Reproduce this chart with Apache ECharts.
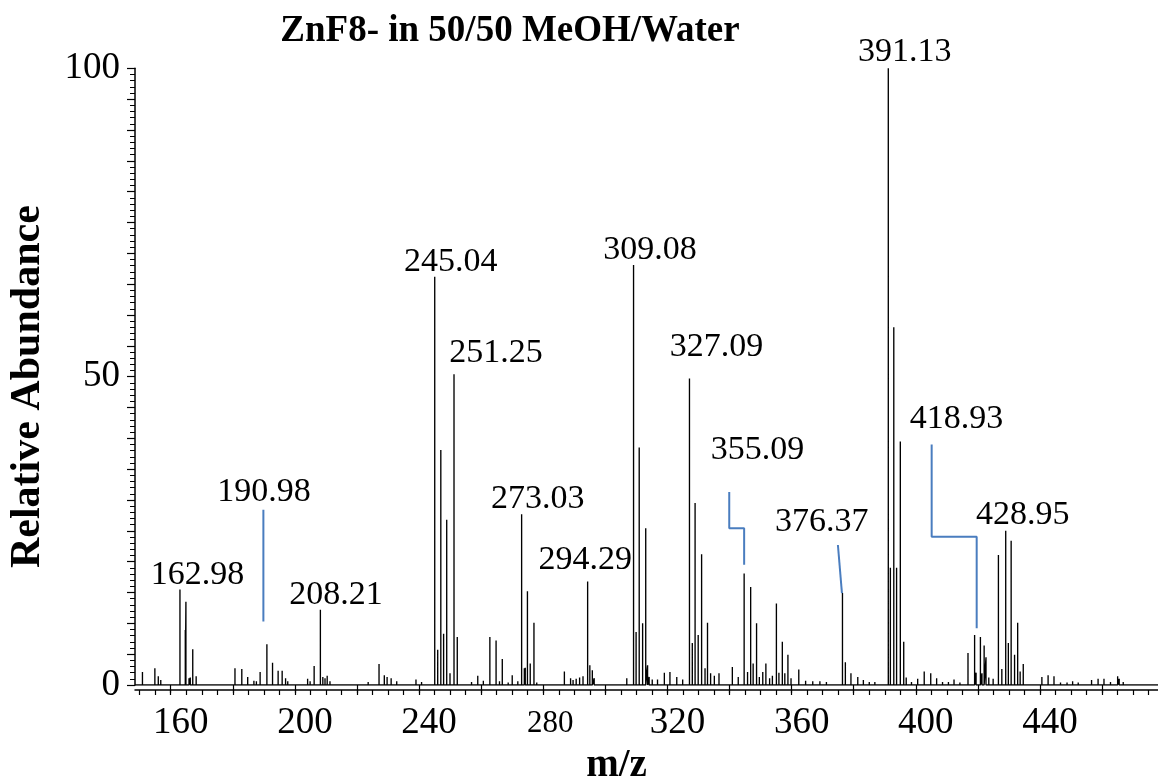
<!DOCTYPE html>
<html>
<head>
<meta charset="utf-8">
<script src="https://cdn.jsdelivr.net/npm/echarts@6/dist/echarts.min.js"></script>
<style>
  html, body { margin: 0; padding: 0; background: #fff; }
  #chart { width: 1158px; height: 778px; }
</style>
</head>
<body>
<div id="chart"></div>
<script>
// Centroided peaks: m/z and relative abundance (%)
const mz = [
  150.9, 154.9, 156.0, 156.8, 162.98, 163.5, 164.7, 164.9, 165.9, 166.3,
  167.1, 168.2, 180.7, 182.9, 184.8, 186.8, 187.6, 188.8, 190.98, 192.8,
  194.6, 195.9, 197.0, 197.7, 204.1, 204.9, 206.2, 208.21, 209.0, 209.7,
  210.4, 211.3, 213.0, 221.6, 223.6, 227.1, 228.8, 229.7, 231.0, 232.8,
  239.0, 240.8, 245.04, 246.0, 247.0, 247.9, 248.9, 249.96, 251.25, 252.3,
  256.9, 258.9, 260.7, 262.8, 264.8, 265.9, 266.8, 268.7, 270.0, 271.8,
  273.03, 273.9, 274.2, 274.9, 275.8, 277.0, 277.9, 279.0, 286.8, 288.8,
  289.6, 290.6, 291.7, 292.8, 294.29, 295.0, 295.8, 296.4, 299.5, 306.9,
  309.08, 309.9, 310.9, 312.0, 313.0, 313.6, 314.1, 315.1, 316.8, 319.0,
  320.8, 323.0, 324.9, 327.09, 328.0, 328.9, 329.9, 331.0, 332.1, 332.9,
  333.9, 335.1, 336.6, 340.9, 342.8, 344.7, 345.8, 346.8, 347.6, 348.7,
  349.6, 350.7, 351.7, 352.9, 353.8, 355.09, 355.9, 357.0, 357.8, 358.8,
  359.8, 362.3, 364.5, 366.8, 369.1, 371.2, 376.37, 377.3, 379.1, 381.3,
  383.1, 385.0, 386.8, 391.13, 391.8, 392.9, 393.8, 395.0, 396.1, 396.9,
  398.6, 400.6, 402.7, 404.8, 406.7, 408.6, 410.5, 412.3, 414.2, 416.8,
  418.93, 419.4, 420.8, 421.3, 422.0, 422.6, 423.5, 424.9, 426.6, 427.7,
  428.95, 429.8, 430.7, 431.8, 432.8, 433.6, 434.6, 438.9, 440.6, 442.6,
  444.5, 446.6, 448.7, 450.5, 452.3, 456.6, 458.7, 460.6, 462.7, 465.0,
  465.5, 466.8, 473.7
];
const abundance = [
  2.1, 2.7, 1.4, 0.8, 15.5, 0.3, 8.9, 13.5, 1.1, 1.2,
  5.8, 1.4, 2.7, 2.6, 1.3, 0.7, 0.6, 2.1, 6.6, 3.6,
  2.3, 2.3, 1.1, 0.6, 1.0, 0.6, 3.1, 12.2, 1.3, 1.1,
  1.5, 0.6, 0.2, 0.2, 0.5, 3.4, 1.6, 1.3, 1.1, 0.6,
  0.9, 0.5, 66.2, 5.7, 38.1, 8.3, 26.8, 1.9, 50.4, 7.8,
  0.5, 1.5, 0.7, 7.8, 7.2, 0.6, 4.2, 0.4, 1.6, 0.6,
  27.7, 2.7, 2.8, 15.2, 3.5, 10.1, 0.4, 0.3, 2.2, 1.1,
  0.8, 1.0, 1.2, 1.4, 16.8, 3.2, 2.4, 1.1, 0.2, 1.1,
  68.1, 8.6, 38.5, 10.0, 25.4, 3.2, 1.3, 0.9, 0.9, 2.0,
  2.1, 1.3, 0.9, 49.7, 6.8, 29.5, 8.1, 21.2, 2.7, 10.1,
  1.9, 1.5, 1.9, 2.9, 1.3, 18.1, 2.1, 15.9, 3.5, 10.0,
  1.3, 2.1, 3.5, 1.1, 1.5, 13.2, 2.0, 7.0, 1.9, 4.9,
  1.1, 2.5, 0.7, 0.6, 0.6, 0.5, 14.9, 3.7, 1.9, 1.3,
  0.8, 0.5, 0.5, 100, 19.0, 58.0, 19.0, 39.5, 7.0, 1.2,
  0.5, 1.0, 2.2, 1.9, 1.1, 0.5, 0.5, 0.9, 0.4, 5.2,
  8.1, 2.0, 7.8, 1.9, 6.4, 4.5, 1.2, 1.0, 21.1, 2.6,
  25.0, 6.8, 23.4, 4.9, 10.1, 2.2, 3.4, 0.3, 1.3, 1.6,
  1.4, 0.4, 0.4, 0.6, 0.4, 0.8, 1.0, 1.0, 0.5, 1.4,
  1.0, 0.5, 0.2
];

// Peaks that carry an m/z annotation
const labelledMz = [162.98, 190.98, 208.21, 245.04, 251.25, 273.03, 294.29,
                    309.08, 327.09, 355.09, 376.37, 391.13, 418.93, 428.95];

// Leader lines from detached labels down to their peaks (m/z, abundance)
const leader19098 = [[189.85, 28.4], [189.85, 10.3]];
const leader35509 = [[339.9, 31.3], [339.9, 25.4], [344.7, 25.4], [344.7, 19.5]];
const leader37637 = [[374.9, 22.7], [376.2, 14.9]];
const leader41893 = [[405.1, 39.0], [405.1, 24.05], [419.6, 24.05], [419.6, 9.2]];

// Axis ticks and labels
const xMinorTicks = [];
for (let v = 150; v <= 475; v += 5) xMinorTicks.push(v);
const xMajorTicks = [160, 180, 200, 220, 240, 260, 280, 300, 320, 340, 360, 380, 400, 420, 440, 460];
const xTickLabels = [160, 200, 240, 280, 320, 360, 400, 440];
const yTickLabels = [0, 50, 100];

const X_MIN = 148.5, X_MAX = 478;

// Label placement (pixel offset of label centre from the peak top)
const labelOffsets = {
  '162.98': [17.5, -14.5], '190.98': [-3, -152.6], '208.21': [15.6, -15],
  '245.04': [16, -15], '251.25': [42, -21.5], '273.03': [16, -15],
  '294.29': [-2.5, -21.7], '309.08': [16.5, -15], '327.09': [27, -31.6],
  '355.09': [-19, -153.6], '376.37': [-20.8, -71.4], '391.13': [16.5, -16.3],
  '418.93': [-18, -216], '428.95': [17, -15.7]
};

const SERIF = "'Liberation Serif', 'Times New Roman', serif";
const LEADER_BLUE = '#4a7dbf';

// Stick spectrum drawn as one continuous trace along the baseline
const order = mz.map((_, i) => i).sort((a, b) => mz[a] - mz[b]);
const trace = [[X_MIN, 0]];
order.forEach(i => { trace.push([mz[i], 0], [mz[i], abundance[i]], [mz[i], 0]); });
trace.push([X_MAX, 0]);

const labelPoints = labelledMz.map(m => {
  const i = mz.indexOf(m);
  const key = m.toFixed(2);
  return {
    value: [m, abundance[i]],
    label: { offset: labelOffsets[key] }
  };
});

const leaderSeries = [leader19098, leader35509, leader37637, leader41893].map(path => ({
  type: 'line',
  data: path,
  symbol: 'none',
  silent: true,
  lineStyle: { color: LEADER_BLUE, width: 2 },
  z: 3
}));

const chart = echarts.init(document.getElementById('chart'), null, { renderer: 'canvas' });

chart.setOption({
  animation: false,
  backgroundColor: '#fff',
  title: {
    text: 'ZnF8- in 50/50 MeOH/Water',
    left: 505,
    textAlign: 'center',
    top: 8,
    textStyle: { fontFamily: SERIF, fontWeight: 'bold', fontSize: 37, color: '#000' }
  },
  grid: { left: 135, right: 0, top: 68.3, bottom: 93, containLabel: false, outerBoundsMode: 'none' },
  xAxis: [{
    type: 'value',
    min: X_MIN,
    max: X_MAX,
    position: 'bottom',
    offset: 5,
    axisLine: { show: true, onZero: false, lineStyle: { color: '#000', width: 1.5 } },
    axisTick: { show: true, customValues: xMinorTicks, length: 5, lineStyle: { color: '#000', width: 1.2 } },
    axisLabel: {
      show: true,
      customValues: xTickLabels,
      margin: 15,
      padding: [0, 0, 0, 20],
      fontFamily: SERIF,
      fontSize: 37,
      color: '#000',
      formatter: v => (v === 280 ? '{s|280}' : String(v)),
      rich: { s: { fontFamily: SERIF, fontSize: 31, lineHeight: 37, color: '#000', padding: [0, 6, 0, 0] } }
    },
    splitLine: { show: false },
    name: 'm/z',
    nameLocation: 'middle',
    nameGap: 49,
    nameTextStyle: { fontFamily: SERIF, fontWeight: 'bold', fontSize: 39, color: '#000', padding: [0, 60, 0, 0] }
  }, {
    type: 'value',
    min: X_MIN,
    max: X_MAX,
    position: 'bottom',
    offset: 5,
    axisLine: { show: false },
    axisTick: { show: true, customValues: xMajorTicks, length: 8, lineStyle: { color: '#000', width: 1.2 } },
    axisLabel: { show: false },
    splitLine: { show: false }
  }],
  yAxis: {
    type: 'value',
    min: 0,
    max: 100,
    interval: 5,
    axisLine: { show: true, lineStyle: { color: '#000', width: 1.5 } },
    axisTick: { show: true, length: 8, lineStyle: { color: '#000', width: 1.2 } },
    minorTick: { show: true, splitNumber: 5, length: 5, lineStyle: { color: '#000', width: 1 } },
    axisLabel: {
      margin: 15,
      fontFamily: SERIF,
      fontSize: 37,
      color: '#000',
      padding: [4, 0, 0, 0],
      formatter: v => (yTickLabels.includes(v) ? String(v) : '')
    },
    splitLine: { show: false },
    minorSplitLine: { show: false },
    name: 'Relative Abundance',
    nameLocation: 'middle',
    nameRotate: 90,
    nameGap: 86,
    nameTextStyle: { fontFamily: SERIF, fontWeight: 'bold', fontSize: 42, color: '#000', padding: [0, 20, 0, 0] }
  },
  series: [
    {
      type: 'line',
      data: trace,
      symbol: 'none',
      silent: true,
      sampling: null,
      lineStyle: { color: '#000', width: 1.35, join: 'bevel' },
      z: 2
    },
    ...leaderSeries,
    {
      type: 'scatter',
      data: labelPoints,
      symbolSize: 1,
      silent: true,
      itemStyle: { color: 'rgba(0,0,0,0)', opacity: 1 },
      label: {
        show: true,
        position: 'inside',
        formatter: p => p.value[0].toFixed(2),
        fontFamily: SERIF,
        fontSize: 34,
        color: '#000',
        opacity: 1,
        textBorderWidth: 0
      },
      z: 4
    }
  ]
});
</script>
</body>
</html>
